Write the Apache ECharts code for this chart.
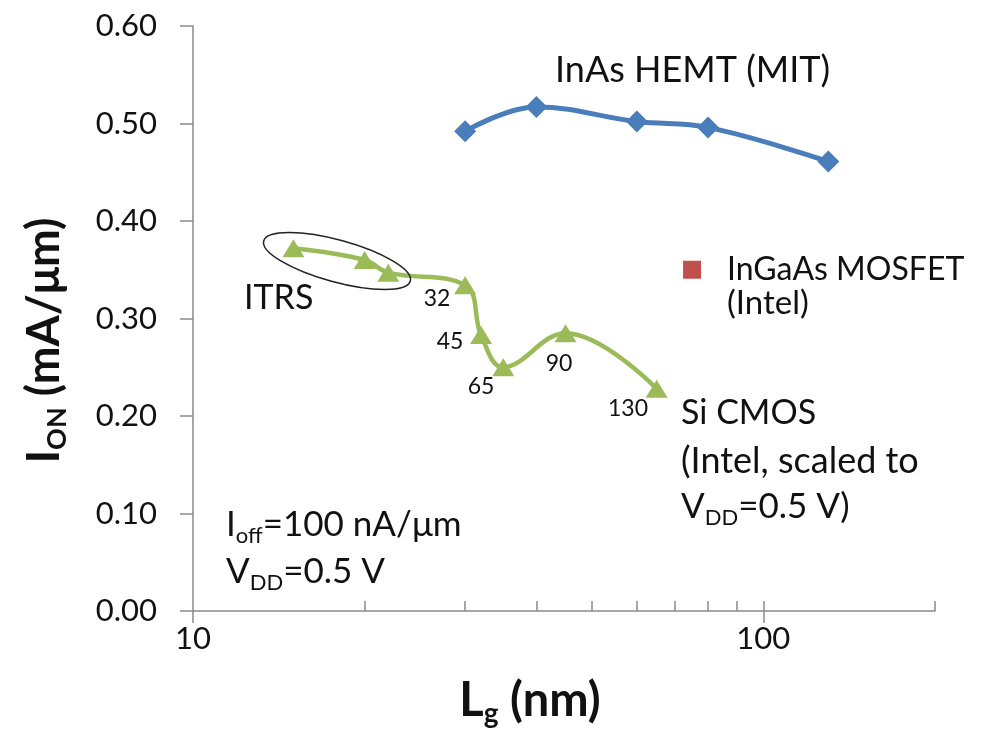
<!DOCTYPE html>
<html>
<head>
<meta charset="utf-8">
<script src="https://cdn.jsdelivr.net/npm/echarts@6/dist/echarts.min.js"></script>
<style>
html, body { margin: 0; padding: 0; background: #fff; }
#chart-container { width: 996px; height: 738px; }
</style>
</head>
<body>
<div id="chart-container"></div>
<script>
// data
var hemtLg = [30, 40, 60, 80, 130];
var hemtIon = [0.492, 0.517, 0.502, 0.496, 0.461];
var cmosLg = [15, 20, 22, 30, 32, 35, 45, 65];
var cmosIon = [0.372, 0.360, 0.347, 0.334, 0.283, 0.250, 0.285, 0.228];
var mosfetLg = [75];
var mosfetIon = [0.350];
var xMajorTicks = [10, 100];
var xMinorTicks = [20, 30, 40, 50, 60, 70, 80, 90, 100, 200];

var FONT = 'Lato, "Noto Sans", sans-serif';
var AXIS_GREY = '#8a8a8a';

function pairs(xs, ys) {
	return xs.map(function (x, i) { return [x, ys[i]]; });
}

// plain or rich annotation text
function note(x, y, text, size, align) {
	return {
		type: 'text',
		x: x,
		y: y,
		z: 100,
		style: {
			text: text,
			fill: '#111',
			align: align || 'left',
			verticalAlign: 'middle',
			rich: {
				m: { fontSize: size, fontFamily: FONT, lineHeight: size + 8 },
				s: { fontSize: Math.round(size * 0.62), fontFamily: FONT, lineHeight: Math.round(size * 0.62), verticalAlign: 'bottom' }
			}
		}
	};
}

var chartDom = document.getElementById('chart-container');
var myChart = echarts.init(chartDom);
var option;

option = {
	animation: false,
	backgroundColor: '#fff',
	grid: {
		left: 193,
		right: 61,
		top: 26,
		bottom: 127
	},
	xAxis: [
		{
			type: 'log',
			logBase: 10,
			min: 10,
			max: 200,
			name: '{b|L}{bs|g}{b| (nm)}',
			nameLocation: 'middle',
			nameGap: 63,
			nameTextStyle: {
				padding: [0, 68, 0, 0],
				rich: {
					b: { fontSize: 47, fontWeight: 'bold', fontFamily: FONT, color: '#111', lineHeight: 54 },
					bs: { fontSize: 28, fontWeight: 'bold', fontFamily: FONT, color: '#111', lineHeight: 28, verticalAlign: 'bottom' }
				}
			},
			axisLine: { lineStyle: { color: AXIS_GREY, width: 1.5 } },
			axisTick: { show: true, inside: false, length: 12, customValues: xMajorTicks, lineStyle: { color: AXIS_GREY, width: 1.5 } },
			axisLabel: {
				customValues: xMajorTicks,
				margin: 12,
				fontSize: 31,
				fontFamily: FONT,
				color: '#111'
			},
			splitLine: { show: false }
		},
		{
			type: 'log',
			logBase: 10,
			min: 10,
			max: 200,
			position: 'bottom',
			axisLine: { show: false },
			axisTick: { show: true, inside: true, length: 10, customValues: xMinorTicks, lineStyle: { color: AXIS_GREY, width: 1.5 } },
			axisLabel: { show: false },
			splitLine: { show: false }
		}
	],
	yAxis: {
		type: 'value',
		min: 0,
		max: 0.6,
		interval: 0.1,
		name: '{b|I}{bs|ON}{b| (mA/μm)}',
		nameLocation: 'middle',
		nameGap: 122,
		nameTextStyle: {
			padding: [0, 44, 0, 0],
			rich: {
				b: { fontSize: 45, fontWeight: 'bold', fontFamily: FONT, color: '#111', lineHeight: 54 },
				bs: { fontSize: 27, fontWeight: 'bold', fontFamily: FONT, color: '#111', lineHeight: 27, verticalAlign: 'bottom' }
			}
		},
		axisLine: { show: true, lineStyle: { color: AXIS_GREY, width: 1.5 } },
		axisTick: { show: true, inside: false, length: 13, lineStyle: { color: AXIS_GREY, width: 1.5 } },
		axisLabel: {
			margin: 36,
			fontSize: 31,
			fontFamily: FONT,
			color: '#111',
			formatter: function (v) { return v.toFixed(2); }
		},
		splitLine: { show: false }
	},
	series: [
		{
			name: 'InAs HEMT (MIT)',
			type: 'line',
			data: pairs(hemtLg, hemtIon),
			smooth: 0.4,
			symbol: 'diamond',
			symbolSize: 22,
			lineStyle: { color: '#4a7ebb', width: 5 },
			itemStyle: { color: '#4a7ebb' },
			z: 3
		},
		{
			name: 'Si CMOS',
			type: 'line',
			data: pairs(cmosLg, cmosIon),
			smooth: 0.4,
			symbol: 'triangle',
			symbolSize: [22, 18],
			lineStyle: { color: '#9bbb59', width: 4.5 },
			itemStyle: { color: '#9bbb59' },
			z: 3
		},
		{
			name: 'InGaAs MOSFET (Intel)',
			type: 'scatter',
			data: pairs(mosfetLg, mosfetIon),
			symbol: 'rect',
			symbolSize: 18,
			itemStyle: { color: '#c0504d', opacity: 1 },
			z: 3
		}
	],
	graphic: [
		{
			type: 'ellipse',
			x: 337,
			y: 261,
			rotation: -0.267,
			shape: { cx: 0, cy: 0, rx: 76, ry: 21 },
			style: { fill: 'none', stroke: '#222', lineWidth: 1.5 },
			z: 100
		},
		note(555, 70, '{m|InAs HEMT (MIT)}', 36),
		note(727, 270, '{m|InGaAs MOSFET}', 32),
		note(727, 303, '{m|(Intel)}', 33),
		note(244, 298, '{m|ITRS}', 34),
		note(681, 413, '{m|Si CMOS}', 34),
		note(681, 461, '{m|(Intel, scaled to}', 36),
		note(681, 507, '{m|V}{s|DD}{m|=0.5 V)}', 35),
		note(226, 525, '{m|I}{s|off}{m|=100 nA/μm}', 35),
		note(226, 572, '{m|V}{s|DD}{m|=0.5 V}', 35),
		note(437, 299, '{m|32}', 23, 'center'),
		note(450, 342, '{m|45}', 23, 'center'),
		note(481, 387, '{m|65}', 23, 'center'),
		note(559, 364, '{m|90}', 23, 'center'),
		note(628, 409, '{m|130}', 23, 'center')
	]
};

myChart.setOption(option);

window.addEventListener('resize', function () {
	myChart.resize();
});
</script>
</body>
</html>
